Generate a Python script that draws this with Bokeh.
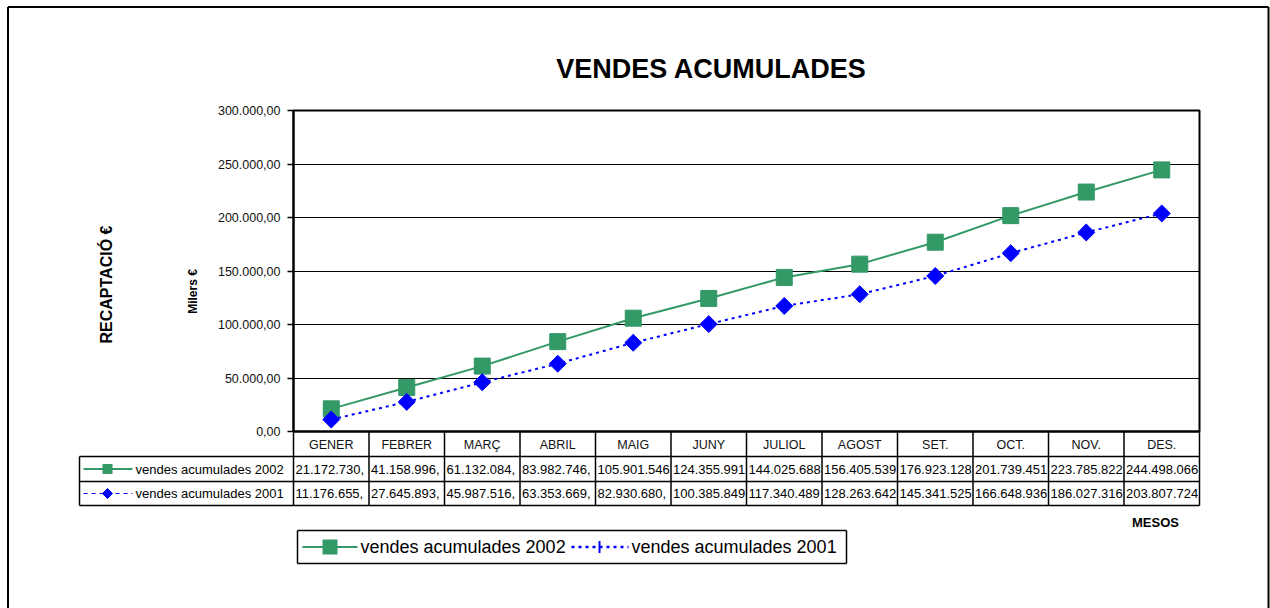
import numpy as np
from bokeh.plotting import figure
from bokeh.models import (FixedTicker, ColumnDataSource, FactorRange, Range1d,
                          CustomJSTickFormatter)
from bokeh.core.properties import value
from bokeh.embed import file_html
from bokeh.resources import INLINE

# ---------------- data ----------------
months = ["GENER", "FEBRER", "MARÇ", "ABRIL", "MAIG", "JUNY",
          "JULIOL", "AGOST", "SET.", "OCT.", "NOV.", "DES."]
sales_2002 = [21172730, 41158996, 61132084, 83982746, 105901546, 124355991,
              144025688, 156405539, 176923128, 201739451, 223785822, 244498066]
sales_2001 = [11176655, 27645893, 45987516, 63353669, 82930680, 100385849,
              117340489, 128263642, 145341525, 166648936, 186027316, 203807724]
y_ticks = [0, 50000, 100000, 150000, 200000, 250000, 300000]
label_2002 = "vendes acumulades 2002"
label_2001 = "vendes acumulades 2001"
title_text = "VENDES ACUMULADES"
y_title = "RECAPTACIÓ €"
y_unit = "Milers €"
x_title = "MESOS"

# ---------------- layout constants ----------------
FONT = "Liberation Sans"
W, H = 1270, 608
BL, BR, BT, BB = 293, 71, 110, 177
FRAME_W = W - BL - BR
FRAME_H = H - BT - BB
CAT_PX = FRAME_W / len(months)
YPP = (y_ticks[-1] - y_ticks[0]) / FRAME_H
GREEN = "#339966"
BLUE = "#0000ff"
OV = "overlay"   # drawn above the frame, so marks outside it stay visible


def euro(v):
    s = f"{v:,.2f}"
    return s.replace(",", "X").replace(".", ",").replace("X", ".")


def X(px):  # canvas pixel x -> categorical synthetic units
    return (px - BL) / CAT_PX


def Y(py):  # canvas pixel y -> data units
    return (BT + FRAME_H - py) * YPP


def txt(x, y, t, size, bold=False, align="left", angle=0.0):
    p.text(x=x, y=y, text=t, text_font=value(FONT), text_font_size=size,
           text_font_style="bold" if bold else "normal", text_align=align,
           text_baseline="middle", text_color="black", angle=angle, level=OV)


p = figure(width=W, height=H, x_range=FactorRange(*months),
           y_range=Range1d(y_ticks[0], y_ticks[-1]),
           output_backend="svg", toolbar_location=None,
           min_border_left=BL, min_border_right=BR,
           min_border_top=BT, min_border_bottom=BB)
p.background_fill_color = "white"
p.border_fill_color = "white"
p.outline_line_color = "black"
p.outline_line_width = 2

src = ColumnDataSource(dict(month=months,
                            y02=[v / 1000 for v in sales_2002],
                            y01=[v / 1000 for v in sales_2001]))

p.line("month", "y02", source=src, line_color=GREEN, line_width=2)
p.scatter("month", "y02", source=src, marker="square", size=16,
          fill_color=GREEN, line_color=GREEN)
p.line("month", "y01", source=src, line_color=BLUE, line_width=2,
       line_dash="3 4")
p.scatter("month", "y01", source=src, marker="square", angle=np.pi / 4,
          size=12, fill_color=BLUE, line_color=BLUE)

# axes
p.yaxis.ticker = FixedTicker(ticks=y_ticks)
p.yaxis.formatter = CustomJSTickFormatter(code="""
const s = tick.toFixed(2); const parts = s.split('.');
return parts[0].replace(/\\B(?=(\\d{3})+(?!\\d))/g, '.') + ',' + parts[1];
""")
p.yaxis.major_label_text_font = FONT
p.yaxis.major_label_text_font_size = "12.5px"
p.yaxis.major_label_text_color = "#111111"
p.yaxis.major_tick_out = 6
p.yaxis.major_tick_in = 0
p.yaxis.minor_tick_line_color = None
p.yaxis.major_tick_line_width = 1.5
p.yaxis.axis_line_width = 2
p.yaxis.major_label_standoff = 7

p.xaxis.major_tick_line_color = None
p.xaxis.major_tick_out = 0
p.xaxis.major_tick_in = 0
p.xaxis.minor_tick_line_color = None
p.xaxis.axis_line_width = 2
p.xaxis.major_label_text_font = FONT
p.xaxis.major_label_text_font_size = "12.5px"
p.xaxis.major_label_text_color = "#111111"
p.xaxis.major_label_standoff = 6

p.ygrid.grid_line_color = "black"
p.ygrid.grid_line_width = 1
p.xgrid.visible = False

# ---------------- data table under the chart ----------------
AX = BT + FRAME_H           # canvas y of x axis
row_lines = [AX + 25, AX + 50, AX + 74]
left_col = X(79)
n = len(months)
vx0 = list(range(n + 1)) + [left_col]
vy0 = [0] * (n + 1) + [Y(row_lines[0])]
vy1 = [Y(row_lines[-1])] * (n + 2)
p.segment(x0=vx0, y0=vy0, x1=vx0, y1=vy1, line_color="black", line_width=1.5,
          level=OV)
hy = [Y(r) for r in row_lines]
p.segment(x0=[left_col] * 3, y0=hy, x1=[n] * 3, y1=hy, line_color="black",
          line_width=1.5, level=OV)

r2 = Y((row_lines[0] + row_lines[1]) / 2)
r3 = Y((row_lines[1] + row_lines[2]) / 2)
cell_x = [i + 2 / CAT_PX for i in range(n)]
txt(cell_x, [r2] * n, [euro(v)[:11] for v in sales_2002], "13px")
txt(cell_x, [r3] * n, [euro(v)[:11] for v in sales_2001], "13px")

# legend keys inside the table
p.segment(x0=[X(83)], y0=[r2], x1=[X(132)], y1=[r2], line_color=GREEN,
          line_width=2, level=OV)
p.segment(x0=[X(102)], y0=[r2], x1=[X(112)], y1=[r2], line_color=GREEN,
          line_width=10, level=OV)
p.segment(x0=[X(83)], y0=[r3], x1=[X(132)], y1=[r3], line_color=BLUE,
          line_width=1, line_dash="4 4", level=OV)
dy = 5 * YPP
p.patch(x=[X(102), X(107), X(112), X(107)], y=[r3, r3 + dy, r3, r3 - dy],
        fill_color=BLUE, line_color=BLUE, level=OV)
txt([X(135)] * 2, [r2, r3], [label_2002, label_2001], "13px")

# ---------------- titles ----------------
txt([X(711)], [Y(68)], [title_text], "27px", bold=True, align="center")
txt([X(106)], [Y(284)], [y_title], "16px", bold=True, align="center",
    angle=np.pi / 2)
txt([X(192)], [Y(291)], [y_unit], "12px", bold=True, align="center",
    angle=np.pi / 2)
txt([X(1155)], [Y(522)], [x_title], "13px", bold=True, align="center")

# ---------------- legend box ----------------
LX0, LX1, LY0, LY1 = 297, 846, 530, 563
ly = Y((LY0 + LY1) / 2)
p.segment(x0=[X(LX0), X(LX0), X(LX0), X(LX1)],
          y0=[Y(LY0), Y(LY1), Y(LY0), Y(LY0)],
          x1=[X(LX1), X(LX1), X(LX0), X(LX1)],
          y1=[Y(LY0), Y(LY1), Y(LY1), Y(LY1)],
          line_color="black", line_width=1.5, level=OV)
p.segment(x0=[X(302)], y0=[ly], x1=[X(357)], y1=[ly], line_color=GREEN,
          line_width=2, level=OV)
p.segment(x0=[X(322)], y0=[ly], x1=[X(337)], y1=[ly], line_color=GREEN,
          line_width=15, level=OV)
p.segment(x0=[X(571)], y0=[ly], x1=[X(628)], y1=[ly], line_color=BLUE,
          line_width=2.5, line_dash="3 4", level=OV)
p.segment(x0=[X(599)], y0=[ly + 6 * YPP], x1=[X(599)], y1=[ly - 6 * YPP],
          line_color=BLUE, line_width=2, level=OV)
txt([X(360), X(631)], [ly, ly], [label_2002, label_2001], "18px")

# outer chart-area border
bx = [X(7.5), X(7.5), X(1268)]
by0 = [Y(6.5), Y(6.5), Y(6.5)]
bx1 = [X(7.5), X(1268), X(1268)]
by1 = [Y(620), Y(6.5), Y(620)]
p.segment(x0=bx, y0=by0, x1=bx1, y1=by1, line_color="black", line_width=2,
          level=OV)

open("out.html", "w").write(file_html(p, INLINE))
